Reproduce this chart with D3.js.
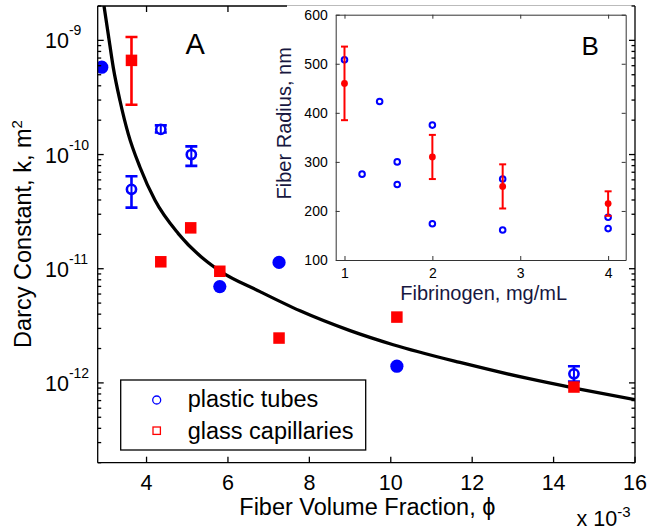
<!DOCTYPE html>
<html><head><meta charset="utf-8">
<script src="https://cdn.jsdelivr.net/npm/d3@7"></script>
<style>body{margin:0;background:#fff;} svg{display:block;} text{font-family:"Liberation Sans",Arial,Helvetica,sans-serif;}</style>
</head><body><svg id="c" width="654" height="532"></svg>
<script>
// ---------- Panel A data (phi in units of 1e-3) ----------
const plasticPhi = [2.90, 3.63, 4.35, 5.10, 5.80, 7.255, 10.15, 14.50];
const plasticK   = [5.82e-10, 4.96e-11, 1.66e-10, 1.0e-10, 6.97e-12, 1.135e-11, 1.40e-12, 1.20e-12];
const plasticLo  = [null, 3.43e-11, 1.56e-10, 7.96e-11, null, null, null, 1.03e-12];
const plasticHi  = [null, 6.46e-11, 1.80e-10, 1.18e-10, null, null, null, 1.40e-12];

const glassPhi = [3.63, 4.35, 5.085, 5.80, 7.255, 10.15, 14.50];
const glassK   = [6.68e-10, 1.15e-11, 2.28e-11, 9.5e-12, 2.47e-12, 3.77e-12, 9.2e-13];
const glassLo  = [2.73e-10, null, null, null, null, null, null];
const glassHi  = [1.07e-9, null, null, null, null, null, null];

const curvePhi = [2.955, 3.06, 3.183, 3.348, 3.552, 3.839, 4.208, 4.78, 5.436, 5.805, 6.788, 7.771, 9.0, 10.06, 11.70, 13.34, 14.57, 16.0];
const curveK   = [2.0e-9, 1.127e-9, 5.77e-10, 2.96e-10, 1.51e-10, 7.74e-11, 3.97e-11, 2.03e-11, 1.19e-11, 9.53e-12, 6.30e-12, 4.28e-12, 2.87e-12, 2.16e-12, 1.51e-12, 1.10e-12, 8.93e-13, 7.14e-13];

const xTicksA = [4, 6, 8, 10, 12, 14, 16];
const yTicksA = [1e-12, 1e-11, 1e-10, 1e-9];
const yTickExp = ["-12", "-11", "-10", "-9"];
const legendLabels = ["plastic tubes", "glass capillaries"];

// ---------- Panel B data ----------
const fibMean    = [1, 2, 2.8, 4];
const radiusMean = [460, 310, 250, 215];
const radiusLo   = [385, 265, 205, 190];
const radiusHi   = [535, 355, 295, 240];
const fibIndiv    = [1, 1.2, 1.4, 1.6, 1.6, 2, 2, 2.8, 2.8, 4, 4];
const radiusIndiv = [508, 275, 423, 300, 254, 375, 174, 265, 161, 187, 164];
const xTicksB = [1, 2, 3, 4];
const yTicksB = [100, 200, 300, 400, 500, 600];

const BLUE = "#0000ff", RED = "#ff0000";
const svg = d3.select("#c");
svg.append("rect").attr("width", 654).attr("height", 532).attr("fill", "#fff");

const A = {l: 97.7, r: 635, t: 6, b: 462.7};
const x = d3.scaleLinear().domain([2.8, 16]).range([A.l, A.r]);
const y = d3.scaleLog().domain([2e-13, 2e-9]).range([A.b, A.t]);

const defs = svg.append("defs");
defs.append("clipPath").attr("id", "clipA").append("rect")
  .attr("x", A.l).attr("y", A.t).attr("width", A.r - A.l).attr("height", A.b - A.t);

const gA = svg.append("g").attr("clip-path", "url(#clipA)");

// fitted curve
const line = d3.line().x(d => x(d[0])).y(d => y(d[1])).curve(d3.curveMonotoneX);
gA.append("path").datum(d3.zip(curvePhi, curveK)).attr("d", line)
  .attr("fill", "none").attr("stroke", "#000").attr("stroke-width", 3.3);

function errBar(g, px, lo, hi, color, cap, w) {
  g.append("line").attr("x1", px).attr("x2", px).attr("y1", lo).attr("y2", hi)
    .attr("stroke", color).attr("stroke-width", w);
  [lo, hi].forEach(v => g.append("line").attr("x1", px - cap).attr("x2", px + cap)
    .attr("y1", v).attr("y2", v).attr("stroke", color).attr("stroke-width", w));
}

// plastic tubes (blue)
plasticPhi.forEach((p, i) => {
  const cx = x(p), cy = y(plasticK[i]);
  if (plasticLo[i] != null) {
    errBar(gA, cx, y(plasticLo[i]), y(plasticHi[i]), BLUE, 6, 2.6);
    gA.append("circle").attr("cx", cx).attr("cy", cy).attr("r", 4.6)
      .attr("fill", "#fff").attr("stroke", BLUE).attr("stroke-width", 2.6);
    gA.append("line").attr("x1", cx).attr("x2", cx).attr("y1", cy - 4).attr("y2", cy + 4)
      .attr("stroke", BLUE).attr("stroke-width", 2);
  } else {
    gA.append("circle").attr("cx", cx).attr("cy", cy).attr("r", 6.6).attr("fill", BLUE);
  }
});
// glass capillaries (red)
glassPhi.forEach((p, i) => {
  const cx = x(p), cy = y(glassK[i]);
  if (glassLo[i] != null) errBar(gA, cx, y(glassLo[i]), y(glassHi[i]), RED, 6, 2.6);
  const s = 11.5;
  gA.append("rect").attr("x", cx - s / 2).attr("y", cy - s / 2).attr("width", s).attr("height", s)
    .attr("fill", RED);
});

// legend
const lg = svg.append("g");
lg.append("rect").attr("x", 120.7).attr("y", 380).attr("width", 245).attr("height", 70)
  .attr("fill", "#fff").attr("stroke", "#000").attr("stroke-width", 1.3);
lg.append("circle").attr("cx", 156.7).attr("cy", 400).attr("r", 4).attr("fill", "none")
  .attr("stroke", BLUE).attr("stroke-width", 1.3);
lg.append("rect").attr("x", 156.7 - 3.7).attr("y", 430.7 - 3.7).attr("width", 7.4).attr("height", 7.4)
  .attr("fill", "none").attr("stroke", RED).attr("stroke-width", 1.3);
lg.selectAll("text.lg").data(legendLabels).join("text")
  .attr("x", 187.7).attr("y", (d, i) => i ? 439.3 : 406.7)
  .attr("font-size", 23.5).attr("fill", "#000").text(d => d);

// panel label A
svg.append("text").attr("x", 185.5).attr("y", 54).attr("font-size", 29).text("A");

// ---------- Inset (panel B) ----------
const insetBg = {l: 287, r: 632.5, t: 5, b: 302};
svg.append("rect").attr("x", insetBg.l).attr("y", insetBg.t)
  .attr("width", insetBg.r - insetBg.l).attr("height", insetBg.b - insetBg.t).attr("fill", "#fff");
svg.append("line").attr("x1", insetBg.l).attr("x2", A.r).attr("y1", 5.5).attr("y2", 5.5)
  .attr("stroke", "#bbb").attr("stroke-width", 1);

const B = {l: 335.7, r: 625.7, t: 14.7, b: 260};
const xb = d3.scaleLinear().domain([0.9, 4.2]).range([B.l, B.r]);
const yb = d3.scaleLinear().domain([100, 600]).range([B.b, B.t]);
const gB = svg.append("g");
const axCol = "#333";

gB.append("g").attr("transform", `translate(0,${B.b})`)
  .call(d3.axisBottom(xb).tickValues(xTicksB).tickSizeInner(-4).tickSizeOuter(0).tickPadding(8).tickFormat(d3.format("d")));
gB.append("g").attr("transform", `translate(0,${B.t})`)
  .call(d3.axisTop(xb).tickValues(xTicksB).tickSizeInner(-4).tickSizeOuter(0).tickFormat(""));
gB.append("g").attr("transform", `translate(${B.l},0)`)
  .call(d3.axisLeft(yb).tickValues(yTicksB).tickSizeInner(-4).tickSizeOuter(0).tickPadding(8).tickFormat(d3.format("d")));
gB.append("g").attr("transform", `translate(${B.r},0)`)
  .call(d3.axisRight(yb).tickValues(yTicksB).tickSizeInner(-4).tickSizeOuter(0).tickFormat(""));
gB.selectAll(".domain").attr("stroke", axCol).attr("stroke-width", 1);
gB.selectAll(".tick line").attr("stroke", axCol);
gB.selectAll(".tick text").attr("font-size", 14).attr("fill", "#000")
  .style("font-family", '"Liberation Sans",Arial,sans-serif');

// individual radii
gB.selectAll("circle.ind").data(d3.zip(fibIndiv, radiusIndiv)).join("circle")
  .attr("cx", d => xb(d[0])).attr("cy", d => yb(d[1])).attr("r", 2.8)
  .attr("fill", "none").attr("stroke", BLUE).attr("stroke-width", 2);
// means with error bars
fibMean.forEach((f, i) => {
  errBar(gB, xb(f), yb(radiusLo[i]), yb(radiusHi[i]), RED, 3.5, 2);
  gB.append("circle").attr("cx", xb(f)).attr("cy", yb(radiusMean[i])).attr("r", 3.4).attr("fill", RED);
});

const labCol = "#17173f";
gB.append("text").attr("x", (B.l + B.r) / 2 + 3).attr("y", 299.5).attr("text-anchor", "middle")
  .attr("font-size", 20).attr("fill", labCol).text("Fibrinogen, mg/mL");
gB.append("text").attr("transform", "translate(291,123.3) rotate(-90)").attr("text-anchor", "middle")
  .attr("font-size", 20).attr("fill", labCol).text("Fiber Radius, nm");
gB.append("text").attr("x", 581.5).attr("y", 55).attr("font-size", 26).text("B");

// ---------- Main axes frame & ticks ----------
const ax = svg.append("g").attr("stroke", "#000").attr("stroke-width", 1.3);
ax.append("line").attr("x1", A.l).attr("x2", A.l).attr("y1", A.t).attr("y2", A.b);
ax.append("line").attr("x1", A.r).attr("x2", A.r).attr("y1", A.t).attr("y2", A.b);
ax.append("line").attr("x1", A.l).attr("x2", A.r).attr("y1", A.b).attr("y2", A.b);
ax.append("line").attr("x1", A.l).attr("x2", insetBg.l).attr("y1", A.t).attr("y2", A.t);
xTicksA.forEach(t => {
  ax.append("line").attr("x1", x(t)).attr("x2", x(t)).attr("y1", A.b).attr("y2", A.b - 6);
  if (x(t) < insetBg.l) ax.append("line").attr("x1", x(t)).attr("x2", x(t)).attr("y1", A.t).attr("y2", A.t + 6);
});
y.ticks().forEach(t => {
  const major = yTicksA.some(v => Math.abs(v - t) / v < 1e-6);
  const len = major ? 6 : 3.5;
  const py = y(t);
  if (py < A.t - 0.5 || py > A.b + 0.5) return;
  ax.append("line").attr("x1", A.l).attr("x2", A.l + len).attr("y1", py).attr("y2", py);
  ax.append("line").attr("x1", A.r).attr("x2", A.r - len).attr("y1", py).attr("y2", py);
});

// tick labels
svg.selectAll("text.xt").data(xTicksA).join("text")
  .attr("x", d => x(d)).attr("y", 490).attr("text-anchor", "middle")
  .attr("font-size", 21.5).text(d => d);
yTicksA.forEach((t, i) => {
  const tx = svg.append("text").attr("x", 45).attr("y", y(t) + 8).attr("font-size", 21.5);
  tx.append("tspan").text("10");
  tx.append("tspan").attr("dy", -13).attr("font-size", 14).text(yTickExp[i]);
});
const ex = svg.append("text").attr("x", 576.5).attr("y", 526).attr("font-size", 21.5);
ex.append("tspan").text("x 10");
ex.append("tspan").attr("dy", -9).attr("font-size", 15).text("-3");

// axis labels
svg.append("text").attr("x", (A.l + A.r) / 2 + 1).attr("y", 515).attr("text-anchor", "middle")
  .attr("font-size", 23.5).text("Fiber Volume Fraction, \u03D5");
const yl = svg.append("text").attr("transform", "translate(31,234) rotate(-90)")
  .attr("text-anchor", "middle").attr("font-size", 23.5);
yl.append("tspan").text("Darcy Constant, k, m");
yl.append("tspan").attr("dy", -9).attr("font-size", 15).text("2");
</script></body></html>
